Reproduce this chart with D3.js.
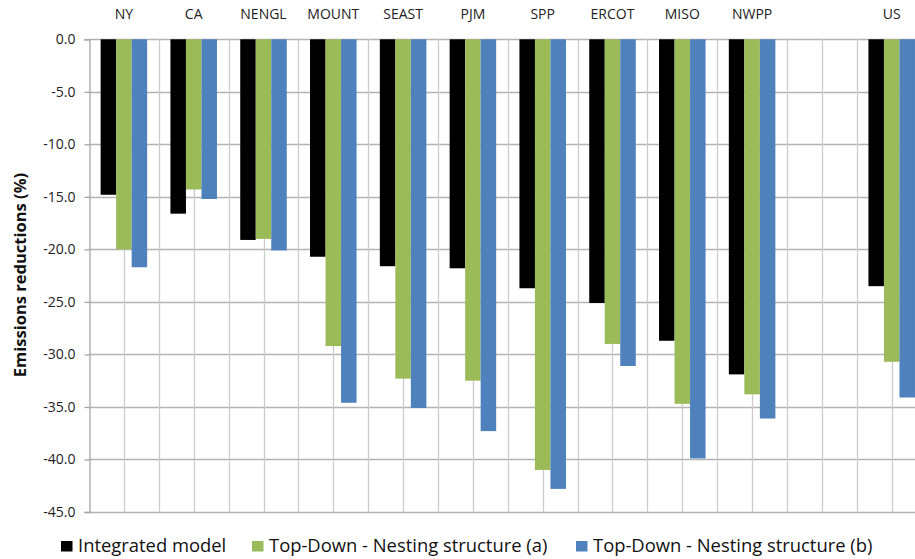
<!DOCTYPE html>
<html>
<head>
<meta charset="utf-8">
<script src="https://cdn.jsdelivr.net/npm/d3@7/dist/d3.min.js"></script>
<style>
  html, body { margin: 0; padding: 0; background: #fff; }
  svg { display: block; font-family: "Open Sans", sans-serif; }
</style>
</head>
<body>
<svg id="chart" width="915" height="559"></svg>
<script>
// Regions (the empty slot keeps the gap before the national total)
const regions = ["NY", "CA", "NENGL", "MOUNT", "SEAST", "PJM", "SPP", "ERCOT", "MISO", "NWPP", "", "US"];

// Emissions reductions (%) per region
const integratedModel = [-14.8, -16.6, -19.1, -20.7, -21.6, -21.8, -23.7, -25.1, -28.7, -31.9, null, -23.5];
const nestingA        = [-20.0, -14.3, -19.0, -29.2, -32.3, -32.5, -41.0, -29.0, -34.7, -33.8, null, -30.7];
const nestingB        = [-21.7, -15.2, -20.1, -34.6, -35.1, -37.3, -42.8, -31.1, -39.9, -36.1, null, -34.1];

const seriesNames = ["Integrated model", "Top-Down - Nesting structure (a)", "Top-Down - Nesting structure (b)"];
const seriesColors = ["#000000", "#9BBB59", "#4F81BD"];
const seriesValues = [integratedModel, nestingA, nestingB];

const yTicks = [0, -5, -10, -15, -20, -25, -30, -35, -40, -45];

const svg = d3.select("#chart");
const plotLeft = 89, plotTop = 39.3, plotBottom = 512, catStep = 69.8;
const plotRight = plotLeft + catStep * regions.length;

const x0 = d3.scaleBand().domain(regions).range([plotLeft, plotRight]).padding(0);
const x1 = d3.scaleBand().domain(seriesNames).range([0, x0.bandwidth()])
  .paddingInner(0).paddingOuter(0.75);
const y = d3.scaleLinear().domain([0, -45]).range([plotTop, plotBottom]);

// Horizontal gridlines
svg.append("g").selectAll("line").data(yTicks).join("line")
  .attr("x1", plotLeft).attr("x2", plotRight)
  .attr("y1", d => Math.round(y(d)) + 0.5).attr("y2", d => Math.round(y(d)) + 0.5)
  .attr("stroke", "#b3b3b3").attr("stroke-width", 1.3);

// Vertical gridlines at every half category
const vLines = [];
regions.forEach(r => { vLines.push(x0(r)); vLines.push(x0(r) + x0.bandwidth() / 2); });
vLines.push(plotRight);
svg.append("g").selectAll("line").data(vLines.slice(1)).join("line")
  .attr("x1", d => Math.round(d) + 0.5).attr("x2", d => Math.round(d) + 0.5)
  .attr("y1", y(0)).attr("y2", y(-45))
  .attr("stroke", "#cccccc").attr("stroke-width", 1.3);

// Value axis (line, ticks, labels)
const yAxis = d3.axisLeft(y).tickValues(yTicks).tickSize(5).tickPadding(9)
  .tickFormat(d => d3.format(".1f")(d).replace("−", "-"));
const gy = svg.append("g").attr("transform", `translate(${plotLeft + 0.5},0)`).call(yAxis);
gy.select(".domain").attr("stroke", "#a6a6a6").attr("stroke-width", 1.3);
gy.selectAll(".tick line").attr("stroke", "#a6a6a6").attr("stroke-width", 1.3);
gy.selectAll(".tick text").attr("font-family", "Open Sans, sans-serif")
  .attr("font-size", 14).attr("fill", "#222");

// Bars
const groups = svg.append("g").selectAll("g").data(regions).join("g")
  .attr("transform", d => `translate(${x0(d)},0)`);
groups.selectAll("rect")
  .data((r, i) => seriesNames.map((s, k) => ({ s, k, v: seriesValues[k][i] })).filter(d => d.v != null))
  .join("rect")
  .attr("x", d => x1(d.s))
  .attr("width", x1.bandwidth())
  .attr("y", y(0))
  .attr("height", d => y(d.v) - y(0))
  .attr("fill", d => seriesColors[d.k]);

// Category labels above the plot
svg.append("g").selectAll("text").data(regions.filter(r => r !== "")).join("text")
  .attr("x", d => x0(d) + x0.bandwidth() / 2)
  .attr("y", 18.5)
  .attr("text-anchor", "middle")
  .attr("font-size", 14)
  .attr("fill", "#222")
  .text(d => d);

// Axis title
svg.append("text")
  .attr("transform", "translate(26,275) rotate(-90)")
  .attr("text-anchor", "middle")
  .attr("font-size", 16.5)
  .attr("font-weight", "bold")
  .attr("fill", "#111")
  .text("Emissions reductions (%)");

// Legend
const legendX = [61, 252, 576];
const legend = svg.append("g").selectAll("g").data(seriesNames).join("g")
  .attr("transform", (d, i) => `translate(${legendX[i]},0)`);
legend.append("rect").attr("x", 0).attr("y", 541).attr("width", 11.5).attr("height", 10.5)
  .attr("fill", (d, i) => seriesColors[i]);
legend.append("text").attr("x", 17).attr("y", 552)
  .attr("font-size", 18.4).attr("fill", "#111").text(d => d);
</script>
</body>
</html>
